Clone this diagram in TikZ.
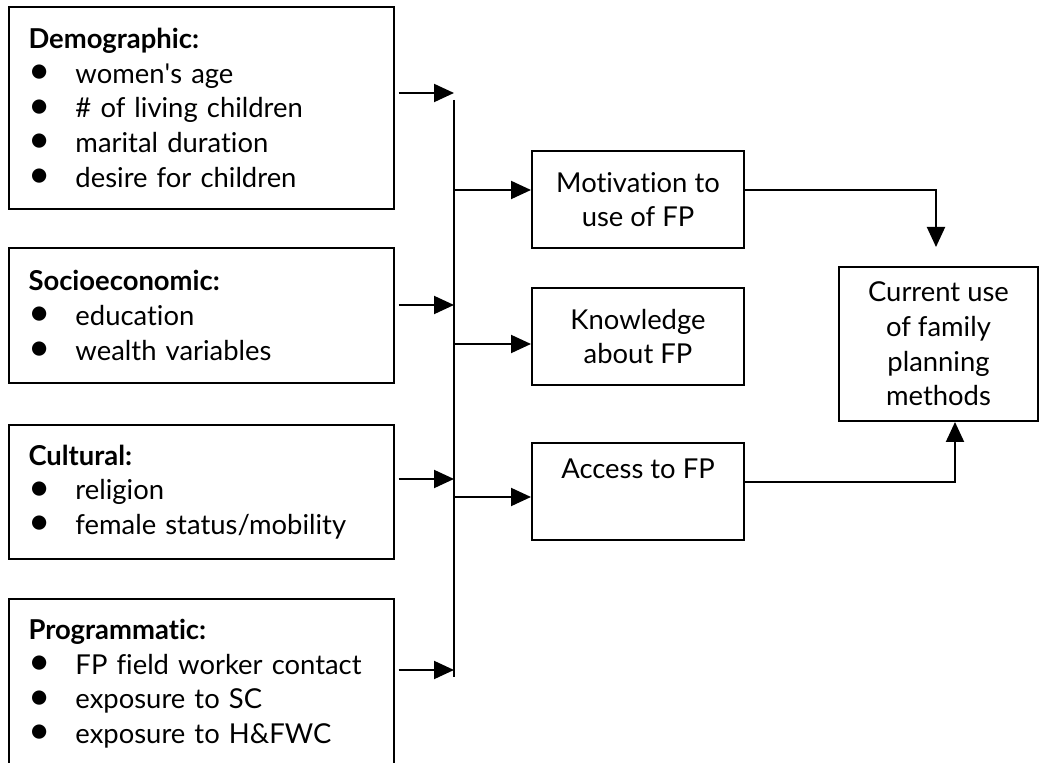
\documentclass[tikz,border=0pt]{standalone}
\usepackage{fontspec}
\setmainfont{Lato}[Ligatures={TeX,NoCommon}]
\usepackage{graphicx}
\usepackage{tikz}
\usetikzlibrary{arrows.meta,positioning}

\newcommand{\blt}{\makebox[23.5pt][l]{\raisebox{-0.2pt}{\scalebox{1.4}{\textbullet}}}}

\begin{document}
\begin{tikzpicture}[->,>={Triangle[length=10pt,width=9pt]},x=0.5pt,y=-0.5pt,
  line width=1pt,node distance=19pt,
  factor node/.style={rectangle,draw,align=left,text width=172.5pt,inner xsep=10pt,
    font=\fontsize{13.7}{17.3}\selectfont},
  mid node/.style={rectangle,draw,align=center,minimum width=106pt,minimum height=48.5pt,
    font=\fontsize{13.7}{17.3}\selectfont},
  out node/.style={rectangle,draw,align=center,minimum width=99.5pt,minimum height=77pt,
    font=\fontsize{13.7}{17.3}\selectfont}]

  \useasboundingbox (0,0) rectangle (1040,763);

  % factor boxes on the left
  \node[factor node,minimum height=101pt] (demo) at (201,108) {\textbf{Demographic:}\\
    \blt women\textquotesingle s age\\ \blt \# of living children\\ \blt marital duration\\ \blt desire for children};
  \node[factor node,minimum height=67.5pt] (socio) [below=18.5pt of demo] {\textbf{Socioeconomic:}\\
    \blt education\\ \blt wealth variables};
  \node[factor node,minimum height=67pt] (cult) [below=20pt of socio] {\textbf{Cultural:}\\
    \blt religion\\ \blt female status/mobility};
  \node[factor node,minimum height=84.5pt] (prog) [below=of cult] {\textbf{Programmatic:}\\
    \blt FP field worker contact\\ \blt exposure to SC\\ \blt exposure to H\&FWC};

  % intermediate boxes
  \node[mid node] (motiv) at (638,199.5) {Motivation to\\ use of FP};
  \node[mid node] (know) [below=of motiv] {Knowledge\\ about FP};
  \node[mid node] (access) [below=28pt of know] {Access to FP\\ \strut};
  \node[out node] (cur) at (938.5,344) {Current use\\ of family\\ planning\\ methods};

  \coordinate (bus top) at (454,100);
  \coordinate (bus bot) at (454,677);
  \coordinate (in1) at (454,93);
  \coordinate (in2) at (454,305);
  \coordinate (in3) at (454,479);
  \coordinate (in4) at (454,670);
  \coordinate (out1) at (454,190);
  \coordinate (out2) at (454,344);
  \coordinate (out3) at (454,497);
  \coordinate (drop) at (936,247);

  \draw[-] (bus top) -- (bus bot);
  \path[shorten <=2pt]
    (demo.east |- in1) edge (in1)
    (socio.east |- in2) edge (in2)
    (cult.east |- in3) edge (in3)
    (prog.east |- in4) edge (in4);
  \path
    (out1) edge (motiv.west |- out1)
    (out2) edge (know.west |- out2)
    (out3) edge (access.west |- out3);
  \draw (motiv.east |- out1) -| (drop);
  \draw ([yshift=4.75pt]access.east) -| ([xshift=8.25pt]cur.south);

\end{tikzpicture}
\end{document}
